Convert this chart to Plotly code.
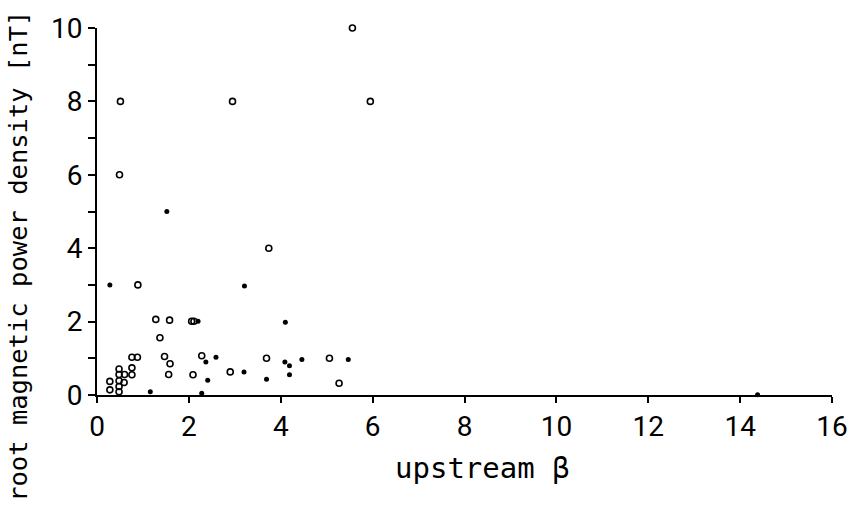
import plotly.graph_objects as go

# open circles
open_x = [0.28, 0.28, 0.48, 0.48, 0.48, 0.48, 0.48, 0.59, 0.60, 0.76, 0.76, 0.76, 0.88,
          1.28, 1.37, 1.47, 1.58, 1.59, 1.56, 2.06, 2.11, 2.09, 2.28, 2.90, 3.69, 3.74,
          5.06, 5.27, 0.51, 0.49, 0.89, 2.95, 5.56, 5.95]
open_y = [0.14, 0.37, 0.09, 0.23, 0.39, 0.56, 0.71, 0.34, 0.56, 0.55, 0.74, 1.03, 1.03,
          2.06, 1.56, 1.05, 2.04, 0.85, 0.56, 2.01, 2.01, 0.55, 1.07, 0.63, 1.00, 4.00,
          1.00, 0.32, 8.00, 6.00, 3.00, 8.00, 10.00, 8.00]

# filled circles
fill_x = [0.28, 1.16, 1.52, 2.20, 2.28, 2.37, 2.41, 2.59, 3.20, 3.21, 3.69, 4.10, 4.09,
          4.19, 4.19, 4.46, 5.47, 14.38]
fill_y = [3.00, 0.09, 5.00, 2.01, 0.05, 0.90, 0.40, 1.03, 0.63, 2.97, 0.43, 1.98, 0.90,
          0.80, 0.55, 0.97, 0.97, 0.01]

x_ticks = [0, 2, 4, 6, 8, 10, 12, 14, 16]
y_ticks = [0, 2, 4, 6, 8, 10]

TICKFONT = "Roboto"
LABELFONT = "DejaVu Sans Mono"

fig = go.Figure()
fig.add_trace(go.Scatter(
    x=open_x, y=open_y, mode="markers", cliponaxis=False,
    marker=dict(symbol="circle-open", size=6, color="black", line=dict(width=1.6)),
))
fig.add_trace(go.Scatter(
    x=fill_x, y=fill_y, mode="markers", cliponaxis=False,
    marker=dict(symbol="circle", size=5, color="black"),
))

fig.update_layout(
    width=860, height=508,
    margin=dict(l=97, r=23, t=19, b=113),
    paper_bgcolor="white", plot_bgcolor="white",
    showlegend=False,
    font=dict(family=TICKFONT, color="black", size=28),
    xaxis=dict(
        range=[0, 16], tickvals=x_ticks, ticktext=[str(v) for v in x_ticks],
        showline=True, linecolor="black", linewidth=1.5,
        ticks="outside", ticklen=6, tickwidth=1.5, tickcolor="black",
        showgrid=False, zeroline=False,
        tickfont=dict(family=TICKFONT, size=28),
    ),
    yaxis=dict(
        range=[0, 10], tickvals=y_ticks, ticktext=[str(v) for v in y_ticks],
        showline=True, linecolor="black", linewidth=1.8,
        ticks="outside", ticklen=7, tickwidth=1.5, tickcolor="black",
        minor=dict(dtick=1, ticks="outside", ticklen=7, tickwidth=1.5, tickcolor="black"),
        showgrid=False, zeroline=False,
        tickfont=dict(family=TICKFONT, size=28),
    ),
    annotations=[
        dict(text="upstream β", xref="paper", yref="paper", x=0.524, y=-0.2,
             xanchor="center", yanchor="middle", showarrow=False,
             font=dict(family=LABELFONT, size=29)),
        dict(text="root magnetic power density [nT]", xref="paper", yref="paper",
             x=-0.107, y=-0.297, xanchor="center", yanchor="bottom", textangle=-90,
             showarrow=False, font=dict(family=LABELFONT, size=25.5)),
    ],
)

fig.write_html("out.html")
